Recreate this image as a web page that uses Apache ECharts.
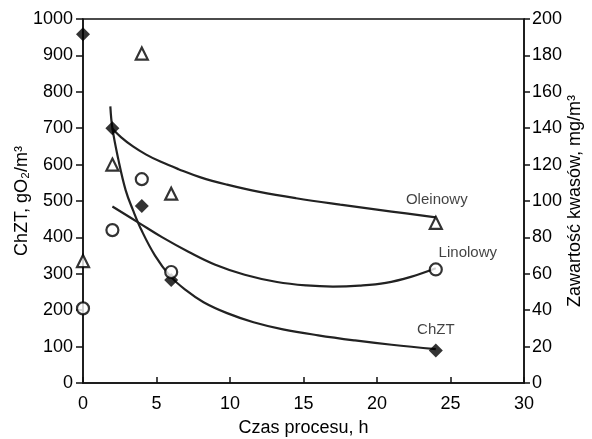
<!DOCTYPE html>
<html lang="pl">
<head>
<meta charset="UTF-8">
<title>ChZT i kwasy</title>
<script src="https://cdn.jsdelivr.net/npm/echarts@6/dist/echarts.min.js"></script>
<style>
  html, body { margin: 0; padding: 0; background: #fff; }
  #chart { width: 592px; height: 439px; }
</style>
</head>
<body>
<div id="chart"></div>
<script>
// punkty pomiarowe
var czas = [0, 2, 4, 6, 24];
var chzt = [958, 700, 486, 283, 89];          // lewa os, gO2/m3
var oleinowy = [67, 120, 181, 104, 88];       // prawa os, mg/m3
var linolowy = [41, 84, 112, 61, 62.4];       // prawa os, mg/m3

// linie trendu
var chztLineX = [1.86, 2.0, 2.4, 2.9, 3.4, 4.0, 4.9, 5.9, 7, 8.2, 9.8, 11.6, 13.6, 16, 18.5, 21, 24];
var chztLineY = [760, 700, 615, 530, 475, 418, 350, 295, 255, 222, 192, 167, 147.5, 131, 117, 105, 93];
var oleLineX = [1.97, 2.6, 3.4, 4.3, 5.3, 6.5, 8, 9.8, 12, 14.5, 17.5, 21, 24];
var oleLineY = [140, 135, 130, 125.5, 121.5, 117.5, 113, 109, 105, 101.5, 98, 94.2, 91];
var linLineX = [2.0, 3.8, 5.4, 7.2, 9.0, 11.0, 13.2, 15.2, 17, 18.8, 20.6, 22.3, 24];
var linLineY = [97, 88, 80, 72, 65, 59.5, 55.5, 53.6, 53, 53.5, 55, 58.3, 63];

function pary(xs, ys) {
  var out = [];
  for (var i = 0; i < xs.length; i++) out.push([xs[i], ys[i]]);
  return out;
}

// ostatni punkt serii dostaje podpis
function zPodpisem(xs, ys, tekst, przes) {
  return pary(xs, ys).map(function (p, i) {
    if (i !== xs.length - 1) return p;
    return {
      value: p,
      label: {
        show: true, formatter: tekst, position: 'inside', offset: przes,
        color: '#111', fontSize: 15, fontFamily: font
      }
    };
  });
}

var czarny = '#000';
var font = 'Liberation Sans, Arial, sans-serif';

var myChart = echarts.init(document.getElementById('chart'));

var option = {
  backgroundColor: '#fff',
  animation: false,
  grid: {
    left: 83, right: 68, top: 19, bottom: 56,
    containLabel: false, outerBoundsMode: 'none',
    show: true, borderColor: '#111', borderWidth: 1.5
  },
  xAxis: {
    type: 'value', min: 0, max: 30, interval: 5,
    name: 'Czas procesu, h', nameLocation: 'middle', nameGap: 36,
    nameMoveOverlap: false,
    nameTextStyle: { color: czarny, fontSize: 18, fontFamily: font },
    axisLine: { lineStyle: { color: '#111', width: 1.5 } },
    axisTick: { inside: true, length: 6, lineStyle: { color: '#111', width: 1.5 } },
    axisLabel: { color: czarny, fontSize: 18, fontFamily: font, margin: 12 },
    splitLine: { show: false }
  },
  yAxis: [{
    type: 'value', min: 0, max: 1000, interval: 100,
    name: 'ChZT, gO₂/m³', nameLocation: 'middle', nameGap: 52,
    nameMoveOverlap: false,
    nameTextStyle: { color: czarny, fontSize: 18, fontFamily: font },
    axisLine: { show: true, lineStyle: { color: '#111', width: 1.5 } },
    axisTick: { length: 7, lineStyle: { color: '#111', width: 1.5 } },
    axisLabel: { color: czarny, fontSize: 18, fontFamily: font, margin: 10,
      formatter: function (v) { return String(v); } },
    splitLine: { show: false }
  }, {
    type: 'value', min: 0, max: 200, interval: 20, position: 'right',
    name: 'Zawartość kwasów, mg/m³', nameLocation: 'middle', nameGap: 42,
    nameRotate: 90, nameMoveOverlap: false,
    nameTextStyle: { color: czarny, fontSize: 18, fontFamily: font },
    axisLine: { show: true, lineStyle: { color: '#111', width: 1.5 } },
    axisTick: { length: 6, lineStyle: { color: '#111', width: 1.5 } },
    axisLabel: { color: czarny, fontSize: 18, fontFamily: font, margin: 8 },
    splitLine: { show: false }
  }],
  series: [
    {
      type: 'line', smooth: 0.4, showSymbol: false, yAxisIndex: 0,
      data: pary(chztLineX, chztLineY),
      lineStyle: { color: '#222', width: 2.2 }, z: 2
    },
    {
      type: 'line', smooth: 0.4, showSymbol: false, yAxisIndex: 1,
      data: pary(oleLineX, oleLineY),
      lineStyle: { color: '#222', width: 2.2 }, z: 2
    },
    {
      type: 'line', smooth: 0.4, showSymbol: false, yAxisIndex: 1,
      data: pary(linLineX, linLineY),
      lineStyle: { color: '#222', width: 2.2 }, z: 2
    },
    {
      name: 'ChZT', type: 'scatter', yAxisIndex: 0,
      symbol: 'diamond', symbolSize: 14,
      itemStyle: { color: czarny },
      data: zPodpisem(czas, chzt, 'ChZT', [0, -21]), z: 5
    },
    {
      name: 'Oleinowy', type: 'scatter', yAxisIndex: 1,
      symbol: 'triangle', symbolSize: 12,
      itemStyle: { color: '#fff', borderColor: czarny, borderWidth: 2.2 },
      data: zPodpisem(czas, oleinowy, 'Oleinowy', [1, -23]), z: 5
    },
    {
      name: 'Linolowy', type: 'scatter', yAxisIndex: 1,
      symbol: 'circle', symbolSize: 12,
      itemStyle: { color: '#fff', borderColor: czarny, borderWidth: 2.2 },
      data: zPodpisem(czas, linolowy, 'Linolowy', [32, -17]), z: 5
    }
  ]
};

myChart.setOption(option);
</script>
</body>
</html>
